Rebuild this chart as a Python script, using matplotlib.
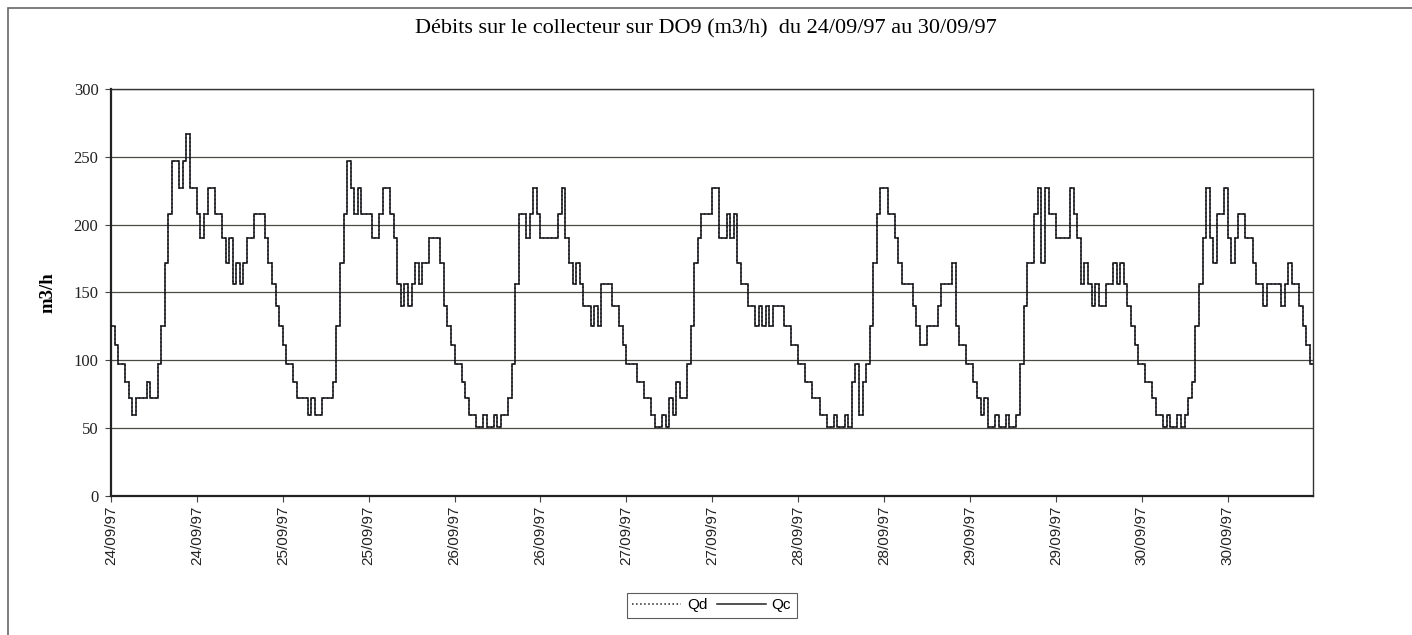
import numpy as np
import matplotlib
matplotlib.use("Agg")
import matplotlib.pyplot as plt
from matplotlib.patches import Rectangle

# Qc (m3/h), one value per half hour, one list per day
qc_2409 = [125, 111, 97, 97, 84, 72, 60, 72, 72, 72, 84, 72,
           72, 97, 125, 172, 208, 247, 247, 227, 247, 267, 227, 227,
           208, 190, 208, 227, 227, 208, 208, 190, 172, 190, 156, 172,
           156, 172, 190, 190, 208, 208, 208, 190, 172, 156, 140, 125]
qc_2509 = [111, 97, 97, 84, 72, 72, 72, 60, 72, 60, 60, 72,
           72, 72, 84, 125, 172, 208, 247, 227, 208, 227, 208, 208,
           208, 190, 190, 208, 227, 227, 208, 190, 156, 140, 156, 140,
           156, 172, 156, 172, 172, 190, 190, 190, 172, 140, 125, 111]
qc_2609 = [97, 97, 84, 72, 60, 60, 51, 51, 60, 51, 51, 60,
           51, 60, 60, 72, 97, 156, 208, 208, 190, 208, 227, 208,
           190, 190, 190, 190, 190, 208, 227, 190, 172, 156, 172, 156,
           140, 140, 125, 140, 125, 156, 156, 156, 140, 140, 125, 111]
qc_2709 = [97, 97, 97, 84, 84, 72, 72, 60, 51, 51, 60, 51,
           72, 60, 84, 72, 72, 97, 125, 172, 190, 208, 208, 208,
           227, 227, 190, 190, 208, 190, 208, 172, 156, 156, 140, 140,
           125, 140, 125, 140, 125, 140, 140, 140, 125, 125, 111, 111]
qc_2809 = [97, 97, 84, 84, 72, 72, 60, 60, 51, 51, 60, 51,
           51, 60, 51, 84, 97, 60, 84, 97, 125, 172, 208, 227,
           227, 208, 208, 190, 172, 156, 156, 156, 140, 125, 111, 111,
           125, 125, 125, 140, 156, 156, 156, 172, 125, 111, 111, 97]
qc_2909 = [97, 84, 72, 60, 72, 51, 51, 60, 51, 51, 60, 51,
           51, 60, 97, 140, 172, 172, 208, 227, 172, 227, 208, 208,
           190, 190, 190, 190, 227, 208, 190, 156, 172, 156, 140, 156,
           140, 140, 156, 156, 172, 156, 172, 156, 140, 125, 111, 97]
qc_3009 = [97, 84, 84, 72, 60, 60, 51, 60, 51, 51, 60, 51,
           60, 72, 84, 125, 156, 190, 227, 190, 172, 208, 208, 227,
           190, 172, 190, 208, 208, 190, 190, 172, 156, 156, 140, 156,
           156, 156, 156, 140, 156, 172, 156, 156, 140, 125, 111, 97]

# Qd lies on top of Qc everywhere in the scan; the two can't be told apart
qd_days = [qc_2409, qc_2509, qc_2609, qc_2709, qc_2809, qc_2909, qc_3009]
qc_days = [qc_2409, qc_2509, qc_2609, qc_2709, qc_2809, qc_2909, qc_3009]

days = ["24/09/97", "25/09/97", "26/09/97", "27/09/97",
        "28/09/97", "29/09/97", "30/09/97"]
step_h = 0.5
y_ticks = [0, 50, 100, 150, 200, 250, 300]

SERIF = "Liberation Serif"
SANS = "Liberation Sans"

qc = np.concatenate(qc_days)
qd = np.concatenate(qd_days)
edges = np.arange(len(qc) + 1) * step_h

fig = plt.figure(figsize=(14.12, 6.35), dpi=100)
ax = fig.add_axes([0.0786, 0.219, 0.8516, 0.641])

for y in y_ticks[1:]:
    ax.axhline(y, color="#4a4a44", lw=0.9, zorder=1)

ax.stairs(qd, edges, baseline=None, color="#3a4a78", lw=1.1, ls=":", zorder=2, label="Qd")
ax.stairs(qc, edges, baseline=None, color="#111111", lw=1.1, zorder=3, label="Qc")

ax.set_xlim(0, edges[-1])
ax.set_ylim(0, 300)
ax.set_yticks(y_ticks)
ax.set_yticklabels([str(v) for v in y_ticks], family=SERIF, fontsize=12, color="#222222")

xt = np.arange(0, len(days) * 24, 12)
ax.set_xticks(xt)
ax.set_xticklabels([days[int(t // 24)] for t in xt], rotation=90,
                   family=SANS, fontsize=11, color="#222222")
ax.tick_params(axis="both", direction="out", length=4, width=0.8, color="#444444")
ax.tick_params(axis="x", pad=3)
ax.tick_params(axis="y", pad=5)

for side in ["left", "bottom"]:
    ax.spines[side].set_linewidth(1.6)
    ax.spines[side].set_color("#222222")
for side in ["right", "top"]:
    ax.spines[side].set_linewidth(1.0)
    ax.spines[side].set_color("#333333")

ax.set_ylabel("m3/h", family=SERIF, fontsize=13.5, fontweight="bold", labelpad=12)
fig.text(0.5, 0.955, "Débits sur le collecteur sur DO9 (m3/h)  du 24/09/97 au 30/09/97",
         ha="center", va="center", family=SERIF, fontsize=16)

leg = fig.legend(loc="center", bbox_to_anchor=(0.504, 0.047), ncol=2,
                 prop={"family": SANS, "size": 11}, frameon=True, fancybox=False,
                 handlelength=3.2, columnspacing=0.6, handletextpad=0.4,
                 borderpad=0.35)
leg.get_frame().set_edgecolor("#333333")
leg.get_frame().set_linewidth(0.8)
for h in leg.legend_handles:
    h.set_color("#222222")

# outer chart-area border of the scanned page (top and left edges visible)
fig.patches.append(Rectangle((8 / 1412, -0.1), 1.2, 1.1 - 8 / 635, transform=fig.transFigure,
                             fill=False, ec="#666666", lw=1.2, figure=fig))

fig.savefig("out.png", dpi=100)
